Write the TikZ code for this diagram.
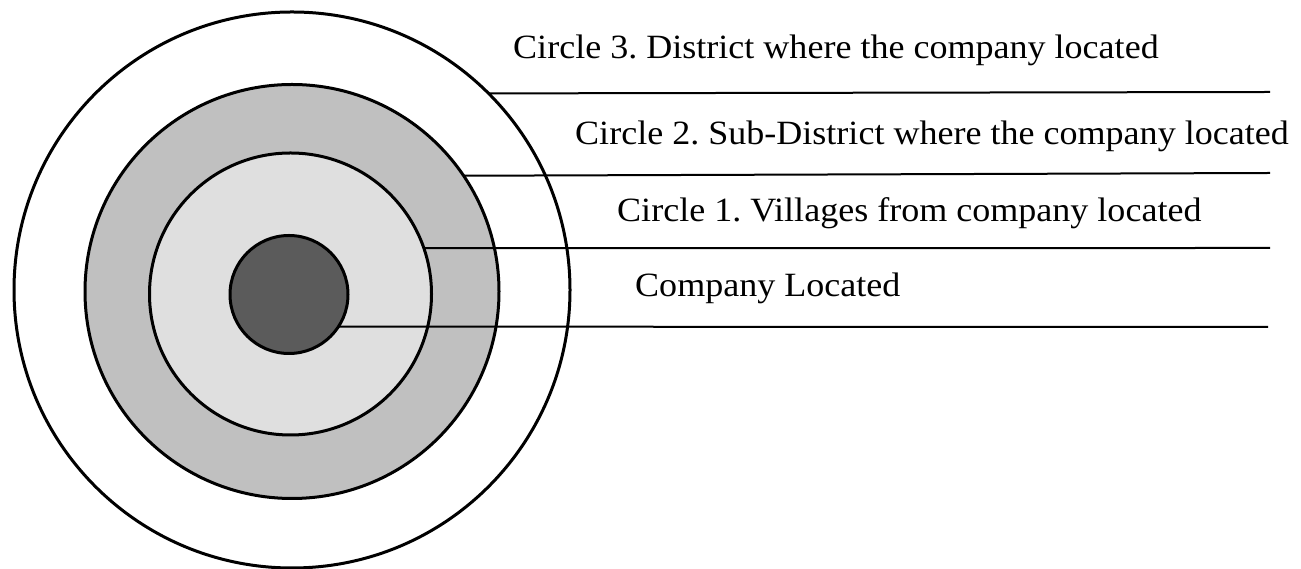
\documentclass[tikz,border=0pt]{standalone}
\usepackage{fontspec}
\usepackage{graphicx}
\setmainfont{Liberation Serif}
\frenchspacing
\definecolor{ringgray}{HTML}{C0C0C0}
\definecolor{lightgray2}{HTML}{DFDFDF}
\definecolor{darkcore}{HTML}{5B5B5B}
\newcommand{\widetext}[1]{\scalebox{1.06}[1]{#1}}
\tikzset{
  ring/.style={circle, draw=black, line width=3pt, inner sep=0pt, outer sep=0pt},
  leader/.style={draw=black, line width=2pt},
  label/.style={anchor=base west, inner sep=0pt, font=\fontsize{34}{40}\selectfont}
}
\begin{document}
\begin{tikzpicture}[x=1pt,y=1pt]
\useasboundingbox (0,0) rectangle (1301,569);
% circles (y = 569 - pixel row)
\node[ring, fill=white, minimum size=556pt] (c3) at (292,279) {};
\node[ring, fill=ringgray, minimum size=414pt] (c2) at (292,277.5) {};
\node[ring, fill=lightgray2, minimum size=282pt] (c1) at (290.5,275) {};
\node[ring, fill=darkcore, minimum size=118pt] (c0) at (289,274.5) {};
% free ends of the leaders
\coordinate (e3) at (1270,477);
\coordinate (e2) at (1270,396);
\coordinate (e1) at (1270,321);
\coordinate (e0) at (1268,242);
% leaders
\draw[leader] (c3.45.4) -- (e3);
\draw[leader] (c2.34.9) -- (e2);
\draw[leader] (c1.19) -- (e1);
\draw[leader] (c0.-33.4) -- (e0);
% labels
\node[label] (t3) at (513,510) {\widetext{Circle 3. District where the company located}};
\node[label] (t2) at (575,424) {\widetext{Circle 2. Sub-District where the company located}};
\node[label] (t1) at (617,347) {\widetext{Circle 1. Villages from company located}};
\node[label] (t0) at (635,272) {\widetext{Company Located}};
\end{tikzpicture}
\end{document}
